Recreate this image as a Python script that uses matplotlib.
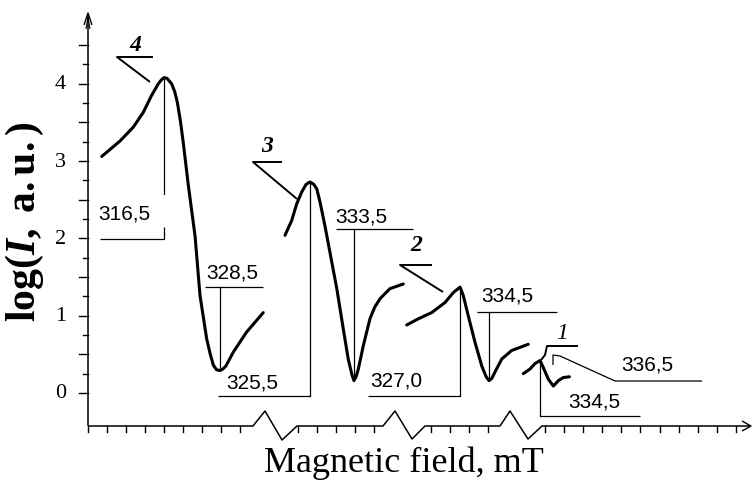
import numpy as np
import matplotlib
matplotlib.use("Agg")
import matplotlib.pyplot as plt

# ---------------- data (x in arbitrary field units along the broken axis) ----------------
field4 = [0.72, 1.68, 2.38, 2.90, 3.34, 3.69, 3.85, 3.99, 4.15, 4.39, 4.55, 4.69, 4.85, 5.00,
          5.27, 5.62, 5.88, 6.08, 6.23, 6.42, 6.58, 6.75, 6.93, 7.08, 7.24, 7.63, 8.33, 9.20]
logI4 = [3.06, 3.26, 3.44, 3.63, 3.85, 4.00, 4.05, 4.08, 4.07, 4.00, 3.90, 3.76, 3.52, 3.24,
         2.68, 2.03, 1.26, 0.94, 0.70, 0.50, 0.36, 0.30, 0.29, 0.31, 0.35, 0.53, 0.79, 1.04]

field3 = [10.34, 10.69, 10.96, 11.22, 11.45, 11.65, 11.85, 12.01, 12.18, 12.44, 12.70, 13.06,
          13.40, 13.66, 13.85, 13.96, 14.07, 14.19, 14.45, 14.80, 15.05, 15.33, 15.85, 16.55]
logI3 = [2.04, 2.23, 2.45, 2.60, 2.70, 2.73, 2.70, 2.64, 2.47, 2.16, 1.82, 1.35,
         0.83, 0.44, 0.24, 0.16, 0.21, 0.31, 0.61, 0.96, 1.11, 1.22, 1.35, 1.41]

field2 = [16.73, 17.34, 18.04, 18.74, 19.18, 19.53, 19.70, 19.96, 20.31, 20.67, 20.90, 21.05,
          21.20, 21.36, 21.72, 22.24, 23.11]
logI2 = [0.88, 0.96, 1.04, 1.17, 1.30, 1.37, 1.26, 1.00, 0.66, 0.35, 0.21, 0.16,
         0.19, 0.27, 0.44, 0.55, 0.63]

field1 = [22.85, 23.20, 23.46, 23.73, 23.90, 24.16, 24.43, 24.69, 24.95, 25.27]
logI1 = [0.25, 0.31, 0.38, 0.42, 0.33, 0.18, 0.09, 0.16, 0.20, 0.21]

curve_labels = ["4", "3", "2", "1"]
field_labels = ["316,5", "328,5", "325,5", "333,5", "327,0", "334,5", "334,5", "336,5"]
y_tick_labels = ["0", "1", "2", "3", "4"]

# ---------------- layout helpers ----------------
SX, SY = 19.05, 77.3      # pixels per data unit
X0, Y0 = 88, 394          # pixel position of data origin


def P(x, y):
    """pixel position in the 755x481 canvas -> data coordinates"""
    return ((x - X0) / SX, (Y0 - y) / SY)


def line(ax, pts, lw=0.9, **kw):
    xs = [p[0] for p in pts]
    ys = [p[1] for p in pts]
    ax.plot(xs, ys, color="black", lw=lw, solid_capstyle="butt", **kw)


plt.rcParams["mathtext.fontset"] = "custom"
plt.rcParams["mathtext.rm"] = "Liberation Serif:bold"
plt.rcParams["mathtext.bf"] = "Liberation Serif:bold"
plt.rcParams["mathtext.it"] = "Liberation Serif:italic"
plt.rcParams["mathtext.bfit"] = "Liberation Serif:bold:italic"

fig = plt.figure(figsize=(7.55, 4.81), dpi=100)
ax = fig.add_axes([0, 0, 1, 1])
ax.set_xlim(P(0, 0)[0], P(755, 0)[0])
ax.set_ylim(P(0, 481)[1], P(0, 0)[1])
ax.axis("off")

serif = "Liberation Serif"
sans = "Liberation Sans"

# ---------------- axes (drawn by hand, broken x axis) ----------------
ya = P(0, 427)[1]
# y axis
line(ax, [P(88, 427), P(88, 16)], lw=1.1)
line(ax, [P(84, 26), P(88, 14), P(92, 26)], lw=1.0)
line(ax, [P(86, 30), P(88, 18), P(90, 30)], lw=0.8)
# y ticks
for v in np.arange(0, 4.51, 0.25):
    major = abs(v * 2 - round(v * 2)) < 1e-6
    L = (9 if major else 5) / SX
    ax.plot([0, -L], [v, v], color="black", lw=1.0)
for i, t in enumerate(y_tick_labels):
    ax.text(P(66, 0)[0], i, t, ha="right", va="center", fontsize=16, family=serif)

# x axis segments with zigzag breaks
zig_px = [[(253, 427), (265, 412), (282, 441), (297, 427)],
          [(383, 427), (395, 412), (412, 440), (425, 427)],
          [(500, 427), (510, 412), (528, 440), (542, 427)]]
pts = [P(88, 427)]
for z in zig_px:
    pts += [P(*q) for q in z]
pts.append(P(750, 427))
line(ax, pts, lw=1.1)
line(ax, [P(742, 422), P(751, 427), P(742, 432)], lw=1.0)
breaks = [(P(*z[0])[0], P(*z[-1])[0]) for z in zig_px]
for u in range(0, 35):
    if any(a + 0.05 < u < b - 0.05 for a, b in breaks):
        continue
    ax.plot([u, u], [ya, ya - 6 / SY], color="black", lw=1.0)

ax.text(P(404, 0)[0], P(0, 472)[1], "Magnetic field, mT", ha="center", va="baseline",
        fontsize=26, family=serif)
ax.text(P(25, 0)[0], P(0, 222)[1], r"$\mathbf{log(}\mathbfit{I}\mathbf{,\ a.u.)}$",
        rotation=90, ha="center", va="center", fontsize=30)

# ---------------- curves ----------------
curves = [(field4, logI4), (field3, logI3), (field2, logI2), (field1, logI1)]
for fx, fy in curves:
    ax.plot(fx, fy, color="black", lw=2.2, solid_capstyle="round", solid_joinstyle="round")

pk = [(c[0][int(np.argmax(c[1]))], max(c[1])) for c in curves]
mn = [(c[0][int(np.argmin(c[1]))], min(c[1])) for c in curves]


def num(x, y, s):
    ax.text(*P(x, y), s, ha="center", va="center", fontsize=15, family=sans)


def clab(x, y, s, weight="bold"):
    ax.text(*P(x, y), s, ha="center", va="center", fontsize=17, family=serif,
            style="italic", weight=weight)


# curve 4
clab(135, 45, curve_labels[0])
line(ax, [P(153, 58), P(117, 58), P(150, 83)], lw=1.4)
ax.plot([pk[0][0], pk[0][0]], [pk[0][1] - 0.02, P(0, 195)[1]], color="black", lw=0.9)
num(124, 214, field_labels[0])
line(ax, [P(164, 228), P(164, 240), P(100, 240)])
# 328,5
num(232, 273, field_labels[1])
line(ax, [P(205, 288), P(263, 288)])
ax.plot([mn[0][0], mn[0][0]], [P(0, 288)[1], mn[0][1] + 0.02], color="black", lw=0.9)
# 325,5 (to peak of curve 3)
num(252, 383, field_labels[2])
ax.plot([pk[1][0], pk[1][0]], [pk[1][1], P(0, 397)[1]], color="black", lw=0.9)
line(ax, [(pk[1][0], P(0, 397)[1]), P(218, 397)])

# curve 3
clab(267, 147, curve_labels[1])
line(ax, [P(282, 163), P(253, 163), P(297, 200)], lw=1.4)
num(361, 217, field_labels[3])
line(ax, [P(336, 230), P(413, 230)])
ax.plot([mn[1][0], mn[1][0]], [P(0, 230)[1], mn[1][1] + 0.02], color="black", lw=0.9)
# 327,0 (to peak of curve 2)
num(396, 381, field_labels[4])
ax.plot([pk[2][0], pk[2][0]], [pk[2][1], P(0, 397)[1]], color="black", lw=0.9)
line(ax, [(pk[2][0], P(0, 397)[1]), P(368, 397)])

# curve 2
clab(416, 246, curve_labels[2])
line(ax, [P(432, 266), P(400, 266), P(443, 293)], lw=1.4)
num(507, 296, field_labels[5])
line(ax, [P(477, 313), P(557, 313)])
ax.plot([mn[2][0], mn[2][0]], [P(0, 313)[1], mn[2][1] + 0.02], color="black", lw=0.9)

# curve 1
clab(562, 334, curve_labels[3], weight="normal")
line(ax, [P(578, 347), P(547, 347), P(545, 356), P(541, 361)], lw=1.4)
num(594, 402, field_labels[6])
ax.plot([pk[3][0], pk[3][0]], [pk[3][1] - 0.03, P(0, 417)[1]], color="black", lw=0.9)
line(ax, [(pk[3][0], P(0, 417)[1]), P(640, 417)])
num(647, 365, field_labels[7])
line(ax, [P(702, 382), P(615, 382), P(560, 357), P(553, 356), P(553, 366)])

fig.savefig("out.png", dpi=100)
